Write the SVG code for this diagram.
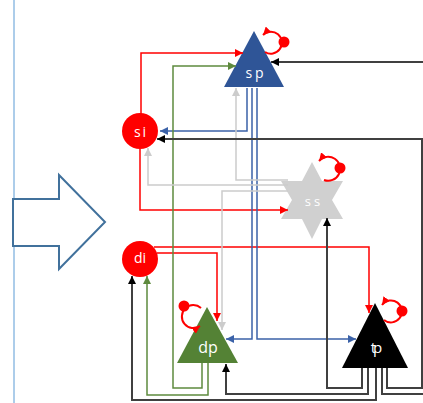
<svg xmlns="http://www.w3.org/2000/svg" width="423" height="403" viewBox="0 0 423 403">
<defs>
<style>
.c{fill:none;stroke-width:1.5}
.r{stroke:#FF0000}
.b{stroke:#3B62A8}
.g{stroke:#5E8A3E}
.y{stroke:#CCCCCC}
.k{stroke:#404040;stroke-width:2}
.loop{fill:none;stroke:#FF0000;stroke-width:2}
.dot{fill:#FF0000}
.lbl{font-family:"Open Sans","Liberation Sans",sans-serif;fill:#FFFFFF;text-anchor:middle}
</style>
<marker id="ar" viewBox="0 0 10 10" refX="10" refY="5" markerWidth="8" markerHeight="8" markerUnits="userSpaceOnUse" orient="auto"><path d="M0,0L10,5L0,10z" fill="#FF0000"/></marker>
<marker id="ab" viewBox="0 0 10 10" refX="10" refY="5" markerWidth="8" markerHeight="8" markerUnits="userSpaceOnUse" orient="auto"><path d="M0,0L10,5L0,10z" fill="#3B62A8"/></marker>
<marker id="ag" viewBox="0 0 10 10" refX="10" refY="5" markerWidth="8" markerHeight="8" markerUnits="userSpaceOnUse" orient="auto"><path d="M0,0L10,5L0,10z" fill="#5E8A3E"/></marker>
<marker id="ay" viewBox="0 0 10 10" refX="10" refY="5" markerWidth="8" markerHeight="8" markerUnits="userSpaceOnUse" orient="auto"><path d="M0,0L10,5L0,10z" fill="#CCCCCC"/></marker>
<marker id="ak" viewBox="0 0 10 10" refX="10" refY="5" markerWidth="8" markerHeight="8" markerUnits="userSpaceOnUse" orient="auto"><path d="M0,0L10,5L0,10z" fill="#000000"/></marker>
</defs>
<rect width="423" height="403" fill="#FFFFFF"/>
<line x1="14" y1="0" x2="14" y2="403" stroke="#5B9BD5" stroke-width="1"/>
<polygon points="13,199 59,199 59,175 105,222 59,269 59,246 13,246" fill="#FFFFFF" stroke="#41719C" stroke-width="2"/>
<g id="sp"><polygon points="254,31 284,87 224,87" fill="#2F5597"/><text class="lbl" x="256" y="78" font-size="14" letter-spacing="3">sp</text></g>
<g id="si"><circle cx="140" cy="131" r="18" fill="#FF0000"/><text class="lbl" x="141" y="137" font-size="14" letter-spacing="2">si</text></g>
<g id="di"><circle cx="140" cy="259" r="18" fill="#FF0000"/><text class="lbl" x="140" y="263" font-size="14">di</text></g>
<g id="ss"><polygon points="312,162 322,181 343,181 332,200 343,219 322,219 312,239 302,219 281,219 292,200 281,181 302,181" fill="#D0D0D0"/><text class="lbl" x="314" y="206" font-size="13" letter-spacing="3">ss</text></g>
<g id="dp"><polygon points="207,307 238,363 177,363" fill="#548235"/><text class="lbl" x="208" y="353" font-size="16">dp</text></g>
<g id="tp"><polygon points="375,303 408,368 342,368" fill="#000000"/><text class="lbl" x="375" y="353" font-size="15" letter-spacing="-3">tp</text></g>
<g id="connectors">
<path class="c r" d="M141,114V53H243" marker-end="url(#ar)"/>
<path class="c r" d="M140,149V210H288" marker-end="url(#ar)"/>
<path class="c r" d="M157,253H217V321" marker-end="url(#ar)"/>
<path class="c r" d="M154,247H369V313" marker-end="url(#ar)"/>
<path class="c b" d="M247,88V131H160" marker-end="url(#ab)"/>
<path class="c b" d="M252,88V339H226" marker-end="url(#ab)"/>
<path class="c b" d="M257,88V339H356" marker-end="url(#ab)"/>
<path class="c g" d="M202,363V388H173V66H236" marker-end="url(#ag)"/>
<path class="c g" d="M208,363V395H147V276" marker-end="url(#ag)"/>
<path class="c y" d="M288,180H236V88" marker-end="url(#ay)"/>
<path class="c y" d="M288,185H148V148" marker-end="url(#ay)"/>
<path class="c y" d="M288,191H222V330" marker-end="url(#ay)"/>
<path class="c k" d="M362,368V388H327V218" marker-end="url(#ak)"/>
<path class="c k" d="M368,368V394H226V364" marker-end="url(#ak)"/>
<path class="c k" d="M376,368V400H132V276" marker-end="url(#ak)"/>
<path class="c k" d="M382,368V394H430V62H271" marker-end="url(#ak)"/>
<path class="c k" d="M387,368V388H422V139H157" marker-end="url(#ak)"/>
<path class="loop" d="M265,52A11,11 0 1,0 263,35" marker-end="url(#ar)"/>
<circle class="dot" cx="284" cy="42" r="5.5"/>
<path class="loop" d="M324,180A12,12 0 1,0 319,161" marker-end="url(#ar)"/>
<circle class="dot" cx="340" cy="168" r="5.5"/>
<path class="loop" d="M201,308A11.5,11.5 0 1,0 200,326" marker-end="url(#ar)"/>
<circle class="dot" cx="184" cy="306" r="5.5"/>
<path class="loop" d="M384,320A11,11 0 1,0 382,305" marker-end="url(#ar)"/>
<circle class="dot" cx="402" cy="311" r="5.5"/>
</g>
</svg>
